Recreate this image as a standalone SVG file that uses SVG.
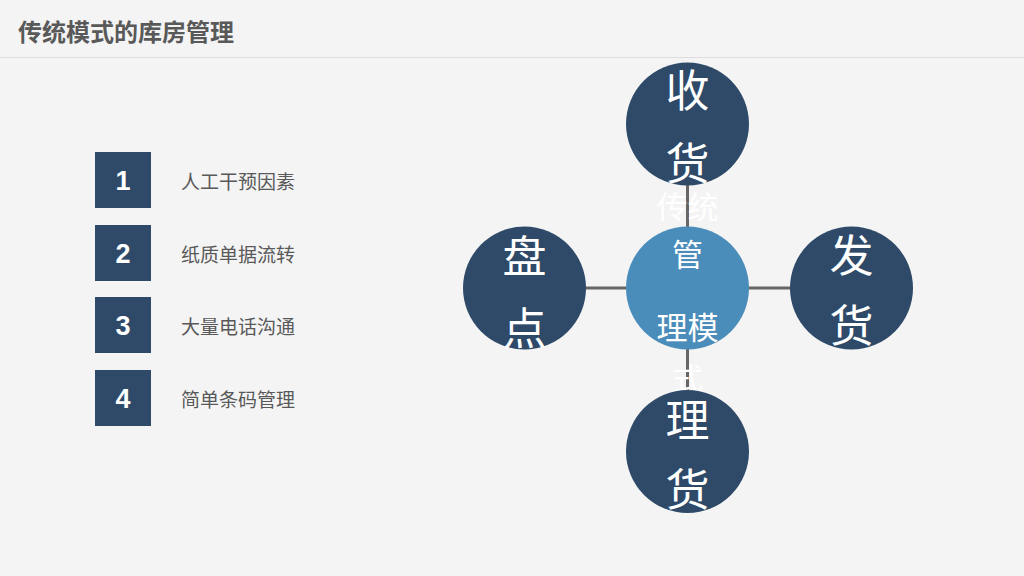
<svg xmlns="http://www.w3.org/2000/svg" width="1024" height="576" viewBox="0 0 1024 576">
<style>
.title{font-family:"Liberation Sans","Noto Sans CJK SC",sans-serif;font-weight:bold;font-size:24px;fill:#595959}
.num{font-family:"Liberation Sans","Noto Sans CJK SC",sans-serif;font-weight:bold;font-size:27px;fill:#ffffff;text-anchor:middle;dominant-baseline:central}
.lbl{font-family:"Liberation Sans","Noto Sans CJK SC",sans-serif;font-size:19px;fill:#595959;dominant-baseline:central}
.sq{fill:#2e4a68}
.dark{fill:#2e4a68}
.mid{fill:#4b8dba}
.ct{font-family:"Noto Sans CJK SC",sans-serif;font-size:44px;fill:#ffffff;text-anchor:middle;dominant-baseline:central}
.cc{font-family:"Noto Sans CJK SC",sans-serif;font-size:31px;fill:#ffffff;text-anchor:middle;dominant-baseline:central}
.conn{stroke:#666666;stroke-width:3;fill:none}
</style>
<rect x="0" y="0" width="1024" height="576" fill="#f4f4f4"/>
<text class="title" x="18" y="41">传统模式的库房管理</text>
<line x1="0" y1="57.5" x2="1024" y2="57.5" stroke="#dddddd" stroke-width="1"/>
<g id="item1"><rect class="sq" x="95" y="152" width="56" height="56"/><text class="num" x="123" y="181">1</text><text class="lbl" x="181" y="182">人工干预因素</text></g>
<g id="item2"><rect class="sq" x="95" y="225" width="56" height="56"/><text class="num" x="123" y="254">2</text><text class="lbl" x="181" y="255">纸质单据流转</text></g>
<g id="item3"><rect class="sq" x="95" y="297" width="56" height="56"/><text class="num" x="123" y="326">3</text><text class="lbl" x="181" y="327">大量电话沟通</text></g>
<g id="item4"><rect class="sq" x="95" y="370" width="56" height="56"/><text class="num" x="123" y="399">4</text><text class="lbl" x="181" y="400">简单条码管理</text></g>
<g id="connectors">
<line class="conn" x1="687.5" y1="185" x2="687.5" y2="227"/>
<line class="conn" x1="687.5" y1="349" x2="687.5" y2="391"/>
<line class="conn" x1="585" y1="288" x2="627" y2="288"/>
<line class="conn" x1="748" y1="288" x2="791" y2="288"/>
</g>
<g id="node-center"><circle class="mid" cx="687.5" cy="288" r="61.5"/>
<text class="cc" x="687.5" y="204">传统</text><text class="cc" x="687.5" y="252">管</text><text class="cc" x="687.5" y="325">理模</text><text class="cc" x="687.5" y="376">式</text></g>
<g id="node-top"><circle class="dark" cx="687.5" cy="124" r="61.5"/><text class="ct" x="687.5" y="88">收</text><text class="ct" x="687.5" y="161">货</text></g>
<g id="node-left"><circle class="dark" cx="524.5" cy="288" r="61.5"/><text class="ct" x="524.5" y="254">盘</text><text class="ct" x="524.5" y="326">点</text></g>
<g id="node-right"><circle class="dark" cx="851.5" cy="288" r="61.5"/><text class="ct" x="851.5" y="253">发</text><text class="ct" x="851.5" y="323">货</text></g>
<g id="node-bottom"><circle class="dark" cx="687.5" cy="451.5" r="61.5"/><text class="ct" x="687.5" y="418">理</text><text class="ct" x="687.5" y="487">货</text></g>
</svg>
